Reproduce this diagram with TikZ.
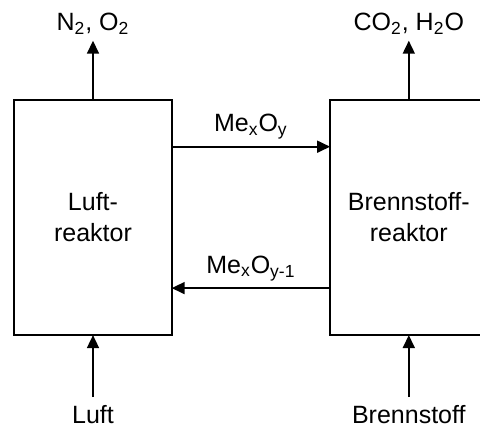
\documentclass[tikz,border=0pt]{standalone}
\usepackage{fontspec}
\setmainfont{Liberation Sans}
\usetikzlibrary{arrows.meta}
\usetikzlibrary{positioning}

\begin{document}
\begin{tikzpicture}
	\tikzstyle{every node}=[font=\fontsize{12.5}{15.5}\selectfont]
	\tikzstyle{reaktor}=[draw,line width=1pt,minimum width=78.7pt,minimum height=117.7pt,inner sep=0pt,outer sep=0pt,align=center]
	\tikzstyle{stoff}=[inner sep=2pt,text height=11pt,text depth=3pt]
	\tikzstyle{flow}=[line width=0.85pt,-{Triangle[length=6.5pt,width=6pt]}]
	\useasboundingbox (0,0) rectangle (240pt,214pt);

	\node (lr) [reaktor] at (46.5pt,105.3pt) {Luft-\\reaktor};
	\node (br) [reaktor,right=79.2pt of lr] {Brennstoff-\\reaktor};

	\node (lo) [stoff,above=29.5pt of lr] {N\textsubscript{2}, O\textsubscript{2}};
	\node (bo) [stoff,above=29.5pt of br] {CO\textsubscript{2}, H\textsubscript{2}O};
	\node (li) [stoff,below=31pt of lr] {Luft};
	\node (bi) [stoff,below=31pt of br] {Brennstoff};

	\path[flow]
	(lr) edge (lo)
	(br) edge (bo)
	(li) edge (lr)
	(bi) edge (br);

	\path[flow]
	([yshift=-23.5pt]lr.north east) edge node[stoff,above=2pt] {Me\textsubscript{x}O\textsubscript{y}} ([yshift=-23.5pt]br.north west)
	([yshift=23.5pt]br.south west) edge node[stoff,above=2pt] {Me\textsubscript{x}O\textsubscript{y-1}} ([yshift=23.5pt]lr.south east);

\end{tikzpicture}
\end{document}
